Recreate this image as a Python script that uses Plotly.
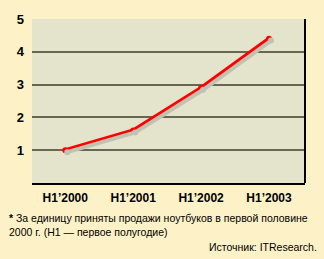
import plotly.graph_objects as go

categories = ["H1’2000", "H1’2001", "H1’2002", "H1’2003"]
values = [1.0, 1.6, 2.9, 4.4]
y_ticks = [1, 2, 3, 4, 5]

FONT = "Liberation Sans Narrow, Arial Narrow, Liberation Sans, Arial"
L, R, T, B = 32, 19, 13, 76
W, H = 324, 259
pw, ph = W - L - R, H - T - B

xr = [-0.49, 3.53]
yr = [0, 5]
# shadow offset of 2px right and 2px down, via shifted overlay axis ranges
dxu = 2 * (xr[1] - xr[0]) / pw
dyu = 2 * (yr[1] - yr[0]) / ph
xr2 = [xr[0] - dxu, xr[1] - dxu]
yr2 = [yr[0] + dyu, yr[1] + dyu]

fig = go.Figure()
fig.add_trace(go.Scatter(x=list(range(len(categories))), y=values, mode="lines+markers",
                         line=dict(color="#C2C2B2", width=4), marker=dict(size=6, color="#C2C2B2"),
                         xaxis="x2", yaxis="y2", hoverinfo="skip", cliponaxis=False))
fig.add_trace(go.Scatter(x=list(range(len(categories))), y=values, mode="lines+markers",
                         line=dict(color="#FF0000", width=4), marker=dict(size=6, color="#FF0000"),
                         cliponaxis=False))

fig.update_layout(
    width=W, height=H, margin=dict(l=L, r=R, t=T, b=B),
    paper_bgcolor="#FDF2C7", plot_bgcolor="#E3E4CB", showlegend=False,
    xaxis=dict(range=xr, tickvals=list(range(len(categories))), ticktext=categories,
               showgrid=False, zeroline=False, showline=True, linecolor="#000000", linewidth=2,
               tickfont=dict(family=FONT, size=12, color="#000000", weight="bold"),
               ticks="", ticklabelstandoff=3),
    yaxis=dict(range=yr, tickvals=y_ticks, showgrid=True, gridcolor="#676752", gridwidth=2,
               zeroline=False, showline=False, ticks="",
               tickfont=dict(family=FONT, size=13, color="#000000", weight="bold"),
               ticklabelstandoff=7),
    xaxis2=dict(range=xr2, overlaying="x", visible=False),
    yaxis2=dict(range=yr2, overlaying="y", visible=False, anchor="x2"),
    shapes=[dict(type="line", xref="paper", yref="paper", x0=1, x1=1, y0=0, y1=1,
                 line=dict(color="#000000", width=2))],
    annotations=[
        dict(text="<b>*</b> За единицу приняты продажи ноутбуков в первой половине<br>2000 г. (Н1 — первое полугодие)",
             xref="paper", yref="paper", x=-L / pw + 7 / pw, y=-(227 - 183) / ph,
             xanchor="left", yanchor="middle", align="left", showarrow=False,
             font=dict(family=FONT, size=10.5, color="#000000")),
        dict(text="Источник: ITResearch.", xref="paper", yref="paper",
             x=1 + 14 / pw, y=-(249 - 183) / ph, xanchor="right", yanchor="middle",
             showarrow=False, font=dict(family=FONT, size=10.5, color="#000000")),
    ],
)
fig.write_html("out.html")
